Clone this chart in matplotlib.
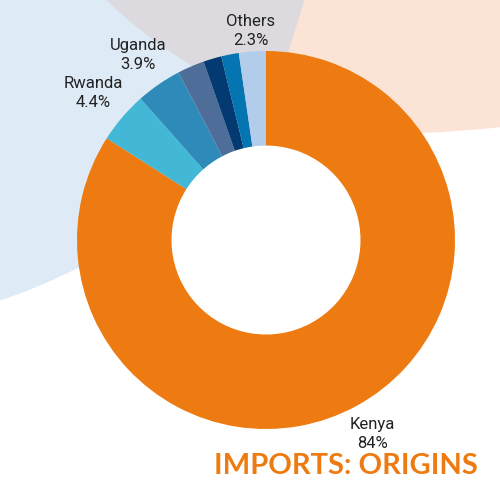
import matplotlib
matplotlib.use("Agg")
import matplotlib.pyplot as plt
from matplotlib.path import Path
from matplotlib.patches import PathPatch, Circle
import numpy as np

# ---- data ----
countries = ["Kenya", "Rwanda", "Uganda", "", "", "", "Others"]
shares = [84.0, 4.4, 3.9, 2.3, 1.55, 1.5, 2.3]
colors = ["#EE7B11", "#43B8D6", "#2E8BB9", "#4F6D99", "#033A71", "#0475B1", "#B1CDEB"]
title = "IMPORTS: ORIGINS"

# label distances (fraction of radius) for each wedge label
label_dist = [1.17, 1.20, 1.19, 0, 0, 0, 1.11]

W = H = 500
fig = plt.figure(figsize=(5, 5), dpi=100)
ax = fig.add_axes([0, 0, 1, 1])


def P(x, y):
    return (x, H - y)


def bg_patch(segs, color):
    verts, codes = [], []
    for code, pts in segs:
        for p in pts:
            verts.append(P(*p))
            codes.append(code)
    verts.append(verts[0])
    codes.append(Path.CLOSEPOLY)
    ax.add_patch(PathPatch(Path(verts, codes), facecolor=color, edgecolor="none", zorder=0))


# grey background blob (top middle)
bg_patch([(Path.MOVETO, [(95, -2)]), (Path.LINETO, [(335, -2), (300, 150), (200, 150)])], "#DCDADF")
# light blue blob (left)
bg_patch([
    (Path.MOVETO, [(-2, -2)]),
    (Path.LINETO, [(105, -2)]),
    (Path.CURVE3, [(132, 28), (192, 66)]),
    (Path.LINETO, [(230, 150), (150, 260), (82, 266)]),
    (Path.CURVE3, [(34, 290), (-2, 301)]),
], "#DEEAF6")
# peach blob (top right)
bg_patch([
    (Path.MOVETO, [(305, -2)]),
    (Path.LINETO, [(502, -2), (502, 127)]),
    (Path.CURVE3, [(461, 131.5), (421, 133)]),
    (Path.LINETO, [(380, 150), (300, 70), (288, 53)]),
], "#FBE3D6")

cx, cy, R = 266, 240, 189
ax.add_patch(Circle(P(cx, cy), R * 0.5, facecolor="white", edgecolor="none", zorder=0.5))

wedges, _ = ax.pie(shares, colors=colors, center=P(cx, cy), radius=R,
                   startangle=90, counterclock=False,
                   wedgeprops=dict(width=R * 0.5, linewidth=0, zorder=1))

for w, name, v, d in zip(wedges, countries, shares, label_dist):
    if not name:
        continue
    ang = np.deg2rad((w.theta1 + w.theta2) / 2)
    x = w.center[0] + d * R * np.cos(ang)
    y = w.center[1] + d * R * np.sin(ang)
    ax.text(x, y, f"{name}\n{v:g}%", ha="center", va="center", fontsize=12,
            family="Roboto", color="#222222", linespacing=1.3, zorder=5)

ax.text(*P(346, 466), title, ha="center", va="center", fontsize=21,
        fontweight="bold", family="Lato", color="#EE7B11", zorder=5)

ax.set_xlim(0, W)
ax.set_ylim(0, H)
ax.set_aspect("equal")
ax.axis("off")
fig.savefig("out.png", dpi=100, facecolor="white")
